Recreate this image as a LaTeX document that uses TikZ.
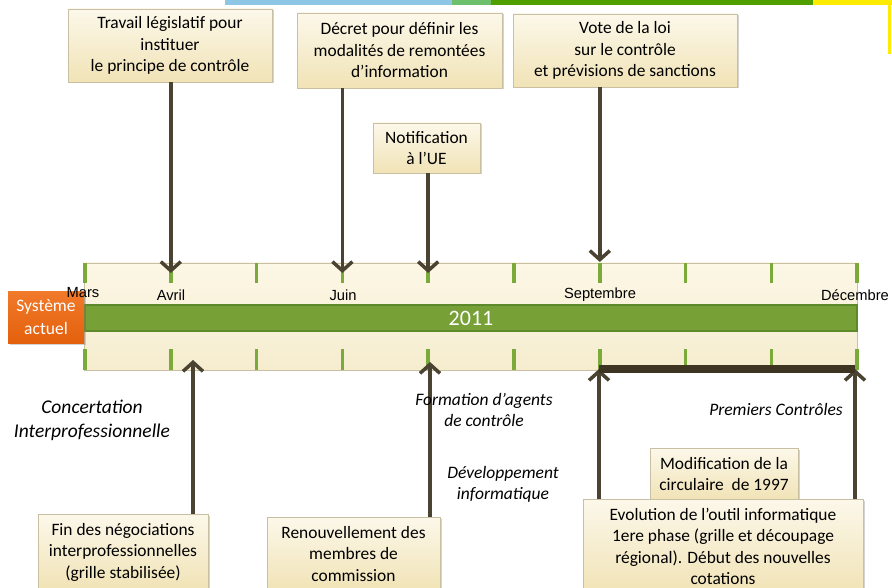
\documentclass[tikz,border=0pt]{standalone}
\usepackage{fontspec}
\setmainfont{Carlito}
\newfontfamily\arialfont{Liberation Sans}
\usetikzlibrary{arrows.meta,shadows}

\definecolor{arrowbrown}{HTML}{4B4331}
\definecolor{barbrown}{HTML}{3D3522}
\definecolor{bargreen}{HTML}{77A037}
\definecolor{bardark}{HTML}{5C8A2A}
\definecolor{tickgreen}{HTML}{7AAA3A}
\definecolor{boxtop}{HTML}{FCF8EA}
\definecolor{boxbottom}{HTML}{F1E3B6}
\definecolor{boxline}{HTML}{C9C0A4}
\definecolor{bandtop}{HTML}{FCF7E6}
\definecolor{bandbottom}{HTML}{F6EDCF}
\definecolor{sysorange}{HTML}{E4600C}
\definecolor{sysorangelight}{HTML}{F07A2A}
\definecolor{stripeblue}{HTML}{8EC6E6}
\definecolor{stripegreen}{HTML}{6CBF6C}
\definecolor{stripedark}{HTML}{519E00}
\definecolor{stripeyellow}{HTML}{FFEB00}

\tikzset{
  eventbox/.style={draw=boxline, line width=0.6pt, top color=boxtop, bottom color=boxbottom,
    align=center, font=\fontsize{17.4}{21.5}\selectfont, inner sep=0pt,
    drop shadow={shadow xshift=1.5pt, shadow yshift=-1.5pt, opacity=0.35}},
  phase/.style={align=center, font=\fontsize{17.5}{21}\selectfont\itshape},
  month/.style={font=\arialfont\fontsize{14.7}{16}\selectfont},
  arr/.style={arrowbrown, line width=3.5pt, -{Straight Barb[length=9pt, width=20pt, line width=3.5pt]}},
}

\begin{document}
\begin{tikzpicture}[x=1pt, y=-1pt]
\useasboundingbox (0,0) rectangle (892,588);

% bandeau du haut
\fill[stripeblue] (225,0) rectangle (452,5);
\fill[stripegreen] (452,0) rectangle (491,5);
\fill[stripedark] (491,0) rectangle (813,5);
\fill[stripeyellow] (813,0) rectangle (892,5);
\fill[stripeyellow] (888,0) rectangle (891,54);

% frise
\shade[top color=bandtop, bottom color=bandbottom, draw=boxline, line width=0.4pt] (84,263) rectangle (857,370);
\foreach \i in {0,...,9} {
  \coordinate (t\i) at ({85+85.8*\i},263);
  \coordinate (b\i) at ({85+85.8*\i},370);
  \draw[tickgreen, line width=3.5pt] (t\i) -- ++(0,20);
  \draw[tickgreen, line width=3.5pt] (b\i) -- ++(0,-21);
}
\node[draw=bardark, line width=2.5pt, fill=bargreen, minimum width=772pt, minimum height=26pt, inner sep=0pt] (year) at (471,318) {};
\node[text=white, font=\fontsize{22}{24}\selectfont] at (year) {2011};

\node[month] (avril) at (171,295) {Avril};
\node[month] (juin) at (343,295) {Juin};
\node[month] (sept) at (600,295) {Septembre};
\node[month] (dec) at (855,295) {Décembre};

\node[top color=sysorangelight, bottom color=sysorange, minimum width=76pt, minimum height=51pt, inner sep=0pt,
  align=center, text=white, font=\fontsize{17.5}{23}\selectfont,
  drop shadow={shadow xshift=1.5pt, shadow yshift=-1.5pt, opacity=0.35}] (sys) at (46,317.5) {Système\\actuel};
\node[month] (mars) at (83,293) {Mars};

% evenements du haut
\node[eventbox, minimum width=204pt, minimum height=73pt] (legis) at (170,45.5) {Travail législatif pour\\instituer\\le principe de contrôle};
\node[eventbox, minimum width=205pt, minimum height=75pt] (decret) at (399.5,50.5) {Décret pour définir les\\modalités de remontées\\d’information};
\node[eventbox, minimum width=224pt, minimum height=73pt] (vote) at (625,50.5) {Vote de la loi\\sur le contrôle\\et prévisions de sanctions};
\node[eventbox, minimum width=107pt, minimum height=50pt] (notif) at (426.5,148) {Notification\\à l’UE};

\draw[arr] (legis.south -| t1) -- (t1 |- 0,273);
\draw[arr] (decret.south -| t3) -- (t3 |- 0,273);
\draw[arr] (notif.south -| t4) -- (t4 |- 0,273);
\draw[arr] (vote.south -| t6) -- (t6 |- 0,262);

% evenements du bas
\node[eventbox, minimum width=170pt, minimum height=76pt] (nego) at (123,552) {Fin des négociations\\interprofessionnelles\\(grille stabilisée)};
\node[eventbox, minimum width=173pt, minimum height=74pt] (renouv) at (353.5,554) {Renouvellement des\\membres de\\commission};
\node[eventbox, minimum width=148pt, minimum height=52pt] (modif) at (724,474) {Modification de la\\circulaire~ de 1997};
\node[eventbox, minimum width=280pt, minimum height=95pt] (evol) at (723,546.5) {Evolution de l’outil informatique\\1ere phase (grille et découpage\\régional). Début des nouvelles\\cotations};

\coordinate (c1) at (193,360);
\coordinate (c2) at (430,362);
\coordinate (c3) at (599,369);
\coordinate (c4) at (855,369);
\draw[arr] (nego.north -| c1) -- (c1);
\draw[arr] (renouv.north -| c2) -- (c2);
\draw[arr] (evol.north -| c3) -- (c3);
\draw[arr] (evol.north -| c4) -- (c4);
\draw[barbrown, line width=8pt] (c3) -- (c4);

% phases
\node[phase, font=\fontsize{19.5}{24}\selectfont\itshape] (concert) at (92,420) {Concertation\\Interprofessionnelle};
\node[phase] (form) at (484,410) {Formation d’agents\\de contrôle};
\node[phase] (dev) at (503,484.5) {Développement\\informatique};
\node[phase] (prem) at (776,409) {Premiers Contrôles};
\end{tikzpicture}
\end{document}
